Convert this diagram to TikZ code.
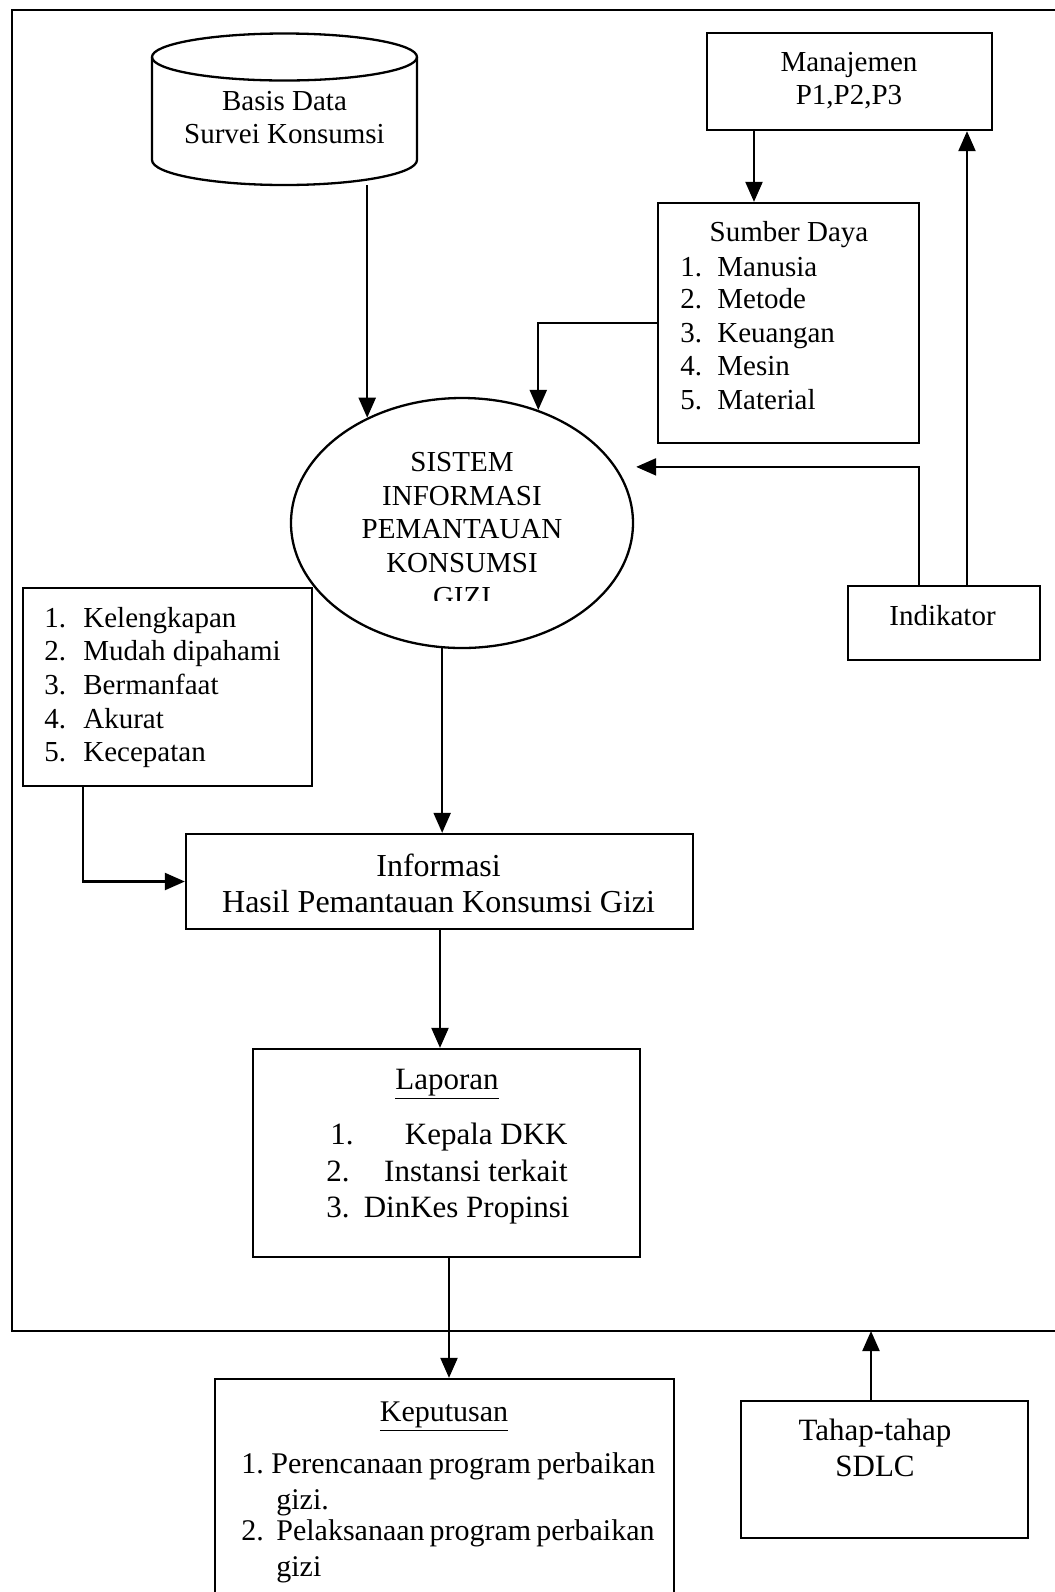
\documentclass[tikz,border=0pt]{standalone}
\usepackage{fontspec}
\setmainfont{Liberation Serif}
\usetikzlibrary{arrows.meta,shapes.geometric}
\newcommand\fsz[1]{\fontsize{#1}{#1}\selectfont}
\begin{document}
\begin{tikzpicture}[x=0.5pt,y=-0.5pt,
  box/.style={draw,line width=1.15pt,rectangle,inner sep=0pt},
  txt/.style={anchor=base,inner sep=0pt,font=\fsz{14.5pt}},
  txtw/.style={anchor=base west,inner sep=0pt,font=\fsz{14.5pt}},
  txte/.style={anchor=base east,inner sep=0pt,font=\fsz{14.5pt}},
  arr/.style={line width=1.1pt,-{Triangle[length=10pt,width=8.5pt]}}]

\fill[white] (0,0) rectangle (1055,1592);
\useasboundingbox (0,0) rectangle (1055,1592);
\clip (0,0) rectangle (1055,1592);

% outer frame of the system
\draw[line width=1.15pt] (12,10) rectangle (1080,1331);
\coordinate (fr) at (871,1331);

% database cylinder
\node[inner sep=0pt,minimum width=132.5pt,minimum height=76pt] (cyl) at (284.5,109) {};
\draw[line width=1.15pt] (152,57) -- (152,160)
  arc[start angle=180,end angle=360,x radius=66.25pt,y radius=12.5pt] -- (417,57);
\draw[line width=1.15pt] (284.5,57) ellipse[x radius=66.25pt,y radius=11.75pt];
\node[txt] at (284.5,110) {Basis Data};
\node[txt] at (284.5,143) {Survei Konsumsi};

% management
\node[box,minimum width=142.5pt,minimum height=48.5pt] (man) at (849.5,81.5) {};
\node[txt] at (849,71) {Manajemen};
\node[txt] at (849,104) {P1,P2,P3};

% resources
\node[box,minimum width=130.5pt,minimum height=120pt] (sd) at (788.5,323) {};
\node[txt] at (789,241) {Sumber Daya};
\foreach \n/\t/\y in {1/Manusia/276,2/Metode/308.5,3/Keuangan/342,4/Mesin/375.5,5/Material/409}{
  \node[txtw] at (680,\y) {\n.};
  \node[txtw] at (717,\y) {\t};
}

% central system
\node[draw,line width=1.15pt,ellipse,inner sep=0pt,minimum width=171pt,minimum height=125pt] (sis) at (462,523) {};
\begin{scope}
  \clip (250,380) rectangle (680,600);
  \node[txt] at (462,471) {SISTEM};
  \node[txt] at (462,505) {INFORMASI};
  \node[txt] at (462,538) {PEMANTAUAN};
  \node[txt] at (462,572) {KONSUMSI};
  \node[txt] at (462,606) {GIZI};
\end{scope}

% indicator
\node[box,minimum width=96pt,minimum height=37pt] (ind) at (944,623) {};
\node[txt] at (942.5,625) {Indikator};

% information quality criteria
\node[box,minimum width=144.5pt,minimum height=99pt] (lst) at (167.5,687) {};
\foreach \n/\t/\y in {1/Kelengkapan/627,2/Mudah dipahami/660,3/Bermanfaat/694,4/Akurat/728,5/Kecepatan/761}{
  \node[txtw] at (44,\y) {\n.};
  \node[txtw] at (83,\y) {\t};
}

% information output
\node[box,minimum width=253.5pt,minimum height=47.5pt] (inf) at (439.5,881.5) {};
\node[txt,font=\fsz{16pt}] at (438.6,876) {Informasi};
\node[txt,font=\fsz{16pt}] at (438.6,912) {Hasil Pemantauan Konsumsi Gizi};

% report
\node[box,minimum width=193.5pt,minimum height=104pt] (lap) at (446.5,1153) {};
\node[txt,font=\fsz{15.5pt}] at (447,1089) {\underline{Laporan}};
\node[txtw,font=\fsz{15.5pt}] at (330,1144) {1.};
\node[txte,font=\fsz{15.5pt}] at (568,1144) {Kepala DKK};
\node[txtw,font=\fsz{15.5pt}] at (326,1181) {2.};
\node[txte,font=\fsz{15.5pt}] at (568,1181) {Instansi terkait};
\node[txtw,font=\fsz{15.5pt}] at (326,1217) {3.};
\node[txte,font=\fsz{15.5pt}] at (570,1217) {DinKes Propinsi};

% decision
\node[box,minimum width=229.5pt,minimum height=130pt] (kep) at (444.5,1509) {};
\node[txt,font=\fsz{15pt}] at (444,1421) {\underline{Keputusan}};
\node[txtw,font=\fsz{15pt}] at (241,1473) {1.};
\node[txtw,font=\fsz{15pt}] at (271,1473) {\makebox[192pt][s]{Perencanaan program perbaikan}};
\node[txtw,font=\fsz{15pt}] at (276,1509) {gizi.};
\node[txtw,font=\fsz{15pt}] at (241,1540) {2.};
\node[txtw,font=\fsz{15pt}] at (276,1540) {\makebox[188pt][s]{Pelaksanaan program perbaikan}};
\node[txtw,font=\fsz{15pt}] at (276,1576) {gizi};

% SDLC stages
\node[box,minimum width=143.5pt,minimum height=68.5pt] (tah) at (884.5,1469.5) {};
\node[txt,font=\fsz{15.5pt}] at (875,1440) {Tahap-tahap};
\node[txt,font=\fsz{15.5pt}] at (875,1476) {SDLC};

% connectors
\draw[arr] (cyl.south -| sis.132) -- (sis.132);
\draw[arr] (man.south -| 754,0) -- (sd.north -| 754,0);
\draw[arr] (ind.north -| 967,0) -- (man.south -| 967,0);
\draw[arr] (sd.west) -| (sis.56);
\draw[arr,shorten >=10pt] (ind.north -| 919,0) |- (sis.20);
\draw[arr] (sis.261) -- (sis.261 |- inf.north);
\draw[arr] (lst.south -| 83,0) |- (inf.west);
\draw[arr] (inf.south -| 440,0) -- (lap.north -| 440,0);
\draw[arr] (lap.south -| 449,0) -- (kep.north -| 449,0);
\draw[arr] (tah.north -| fr) -- (fr);
\end{tikzpicture}
\end{document}
